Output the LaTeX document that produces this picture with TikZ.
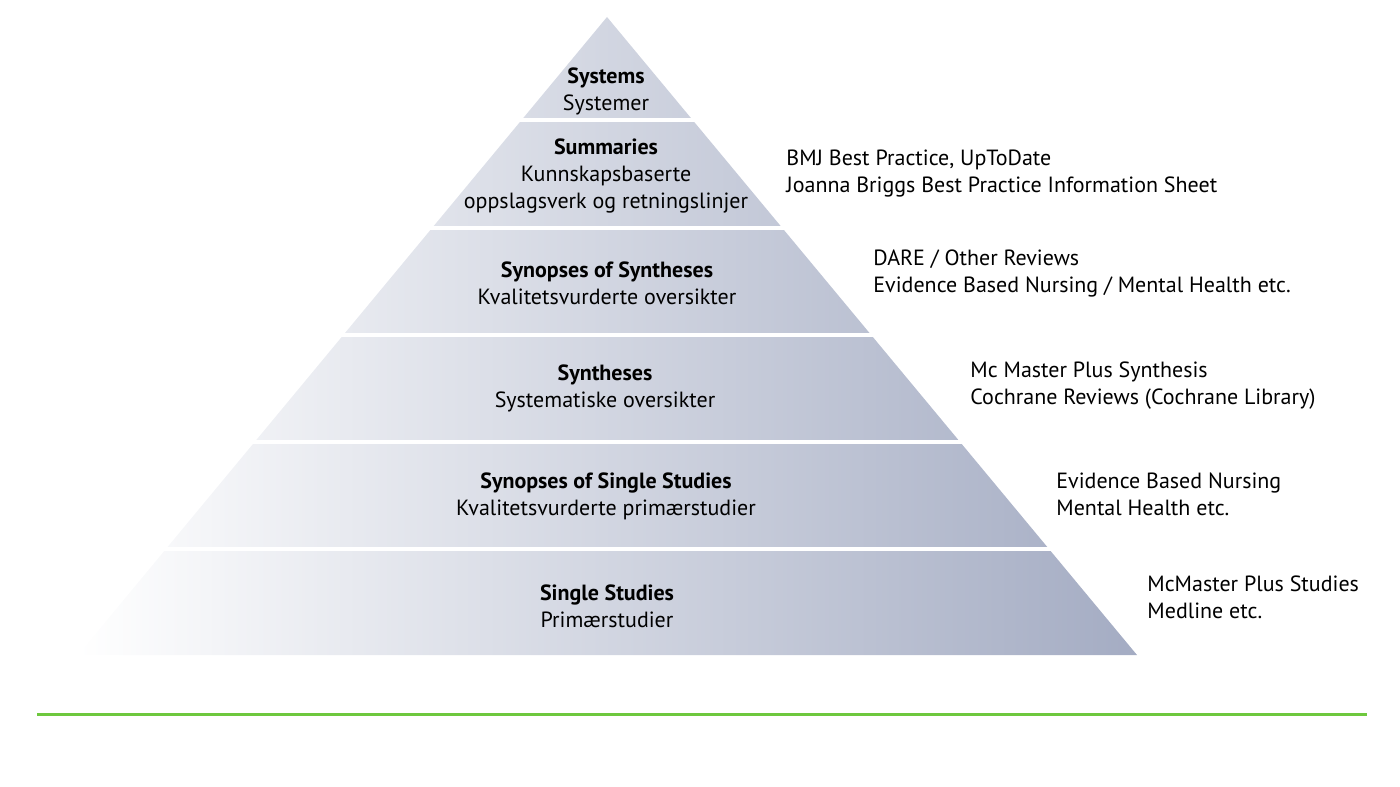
\documentclass[tikz,border=0pt]{standalone}
\usepackage{fontspec}
\setmainfont{PT Sans}
\definecolor{pyrblue}{RGB}{164,172,195}
\definecolor{rulegreen}{RGB}{110,200,62}

\begin{document}
\begin{tikzpicture}[x=0.5pt,y=-0.5pt,
  lvl/.style={align=center,inner sep=0pt,font=\fontsize{11}{13.5}\selectfont},
  src/.style={align=left,anchor=west,inner sep=0pt,font=\fontsize{11}{13.5}\selectfont}]
\useasboundingbox (0,0) rectangle (1400,786);
\coordinate (top) at (607,17);
\coordinate (bl) at (78,655);
\coordinate (br) at (1137,655);

\shade[left color=white,right color=pyrblue] (top)--(br)--(bl)--cycle;
\foreach \y in {120,228,335,442,549}
  \draw[white,line width=1.8pt] (0,\y)--(1400,\y);

\node[lvl] (sys) at (606,91.5) {\textbf{Systems}\\Systemer};
\node[lvl] (sum) at (606,176) {\textbf{Summaries}\\Kunnskapsbaserte\\oppslagsverk og retningslinjer};
\node[lvl] (synsyn) at (607,283) {\textbf{Synopses of Syntheses}\\Kvalitetsvurderte oversikter};
\node[lvl] (syn) at (605,388) {\textbf{Syntheses}\\Systematiske oversikter};
\node[lvl] (synsing) at (606,496) {\textbf{Synopses of Single Studies}\\Kvalitetsvurderte primærstudier};
\node[lvl] (sing) at (607,606) {\textbf{Single Studies}\\Primærstudier};

\node[src] (srcsum) at (786,173.5) {BMJ Best Practice, UpToDate\\Joanna Briggs Best Practice Information Sheet};
\node[src] (srcsynsyn) at (873,273.5) {DARE / Other Reviews\\Evidence Based Nursing / Mental Health etc.};
\node[src] (srcsyn) at (970,385.5) {Mc Master Plus Synthesis\\Cochrane Reviews (Cochrane Library)};
\node[src] (srcsynsing) at (1056,494) {Evidence Based Nursing\\Mental Health etc.};
\node[src] (srcsing) at (1147,597) {McMaster Plus Studies\\Medline etc.};

\coordinate (gl) at (37,714);
\coordinate (gr) at (1367,714);
\draw[rulegreen,line width=1.5pt] (gl)--(gr);

\end{tikzpicture}
\end{document}
